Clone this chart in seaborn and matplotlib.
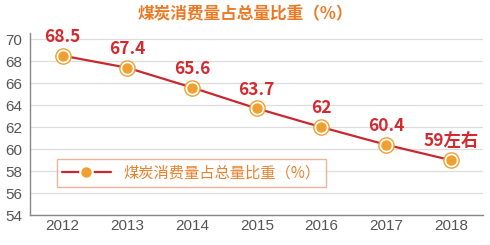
import matplotlib
matplotlib.use("Agg")
import matplotlib.pyplot as plt
import seaborn as sns
import pandas as pd

years = ["2012", "2013", "2014", "2015", "2016", "2017", "2018"]
values = [68.5, 67.4, 65.6, 63.7, 62.0, 60.4, 59.0]
labels = ["68.5", "67.4", "65.6", "63.7", "62", "60.4", "59左右"]
series_name = "煤炭消费量占总量比重（%）"
title = "煤炭消费量占总量比重（%）"

sns.set_theme(style="white")
plt.rcParams['font.family'] = ['Noto Sans CJK SC', 'DejaVu Sans']

df = pd.DataFrame({"year": years, "value": values})

fig = plt.figure(figsize=(4.9, 2.45), dpi=100)
ax = fig.add_axes([0.062, 0.122, 0.924, 0.745])

line_color = "#c8282e"
dot_color = "#f0a030"

sns.lineplot(data=df, x="year", y="value", ax=ax, color=line_color, linewidth=1.6,
             marker="o", markersize=9, markerfacecolor=dot_color,
             markeredgecolor="white", markeredgewidth=1.5, label=series_name, sort=False)
# outer ring
ax.plot(range(len(values)), values, linestyle="none", marker="o", markersize=11,
        markerfacecolor="none", markeredgecolor=dot_color, markeredgewidth=1.0, zorder=5)

for i, (v, t) in enumerate(zip(values, labels)):
    ax.annotate(t, (i, v), xytext=(0, 7), textcoords="offset points", ha="center",
                va="bottom", color="#d42a2f", fontsize=12.5, fontweight="bold")

ax.set_xlim(-0.5, 6.5)
ax.set_ylim(54, 70.6)
ax.set_yticks(range(54, 71, 2))
ax.yaxis.grid(True, color="#dddddd", linewidth=0.9)
ax.xaxis.grid(False)
for s in ["top", "right"]:
    ax.spines[s].set_visible(False)
for s in ["left", "bottom"]:
    ax.spines[s].set_color("#888888")
    ax.spines[s].set_linewidth(1.0)
ax.tick_params(axis="both", labelsize=11, colors="#555555", length=0, pad=3)
ax.tick_params(axis="y", pad=6)
for lab in ax.get_xticklabels() + ax.get_yticklabels():
    lab.set_family(['Liberation Sans', 'DejaVu Sans'])
ax.set_xlabel("")
ax.set_ylabel("")

leg = ax.legend(loc="lower left", bbox_to_anchor=(0.058, 0.155), frameon=True,
                fontsize=11, handlelength=3.2, borderpad=0.35, fancybox=False,
                borderaxespad=0)
leg.get_frame().set_edgecolor("#e8a080")
leg.get_frame().set_facecolor("white")
for txt in leg.get_texts():
    txt.set_color("#e8822e")

fig.text(0.5, 0.94, title, ha="center", va="center", color="#ec7a25",
         fontsize=12, fontweight="heavy")

fig.savefig("out.png", dpi=100, facecolor="white")
